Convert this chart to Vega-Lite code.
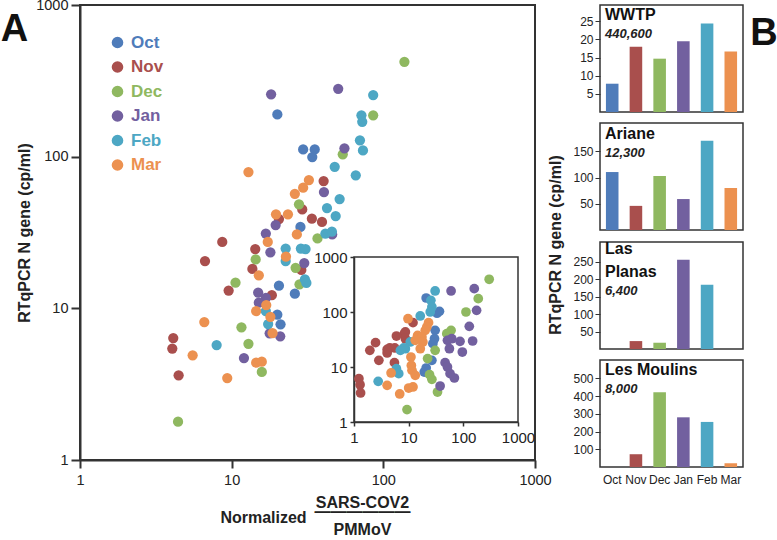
{
  "$schema": "https://vega.github.io/schema/vega-lite/v6.json",
  "padding": {"left": 0, "top": -4, "right": 0, "bottom": 0},
  "background": "white",
  "config": {
    "font": "Liberation Sans",
    "view": {"stroke": "#333", "strokeWidth": 1.5},
    "axis": {"grid": false, "labelFlush": false, "labelOverlap": false, "domainColor": "#333", "tickColor": "#333", "labelColor": "#222", "titleColor": "#222", "labelFont": "Liberation Sans"},
    "title": {"color": "#222"}
  },
  "datasets": {
    "main": [
      {"m": "Oct", "x": 20.0, "y": 190}, {"m": "Oct", "x": 29.6, "y": 111.7}, {"m": "Oct", "x": 35.3, "y": 111.7}, {"m": "Oct", "x": 34.0, "y": 99.4}, {"m": "Oct", "x": 28.4, "y": 34.4}, {"m": "Oct", "x": 20.5, "y": 14.1}, {"m": "Oct", "x": 26.1, "y": 12.5}, {"m": "Oct", "x": 20.0, "y": 9.08}, {"m": "Oct", "x": 21.0, "y": 7.84},
      {"m": "Nov", "x": 40.4, "y": 69.0}, {"m": "Nov", "x": 29.2, "y": 44.9}, {"m": "Nov", "x": 20.5, "y": 38.8}, {"m": "Nov", "x": 33.8, "y": 39.0}, {"m": "Nov", "x": 39.4, "y": 37.1}, {"m": "Nov", "x": 8.67, "y": 27.4}, {"m": "Nov", "x": 14.3, "y": 24.6}, {"m": "Nov", "x": 6.67, "y": 20.5}, {"m": "Nov", "x": 13.7, "y": 18.2}, {"m": "Nov", "x": 28.8, "y": 17.9}, {"m": "Nov", "x": 9.55, "y": 13.1}, {"m": "Nov", "x": 18.4, "y": 12.2}, {"m": "Nov", "x": 4.12, "y": 6.37}, {"m": "Nov", "x": 4.06, "y": 5.43}, {"m": "Nov", "x": 4.47, "y": 3.62},
      {"m": "Dec", "x": 137.7, "y": 422}, {"m": "Dec", "x": 85.7, "y": 187.5}, {"m": "Dec", "x": 54.0, "y": 103.7}, {"m": "Dec", "x": 27.8, "y": 48.5}, {"m": "Dec", "x": 36.8, "y": 28.9}, {"m": "Dec", "x": 14.4, "y": 21.0}, {"m": "Dec", "x": 26.4, "y": 18.5}, {"m": "Dec", "x": 10.6, "y": 14.75}, {"m": "Dec", "x": 28.0, "y": 14.4}, {"m": "Dec", "x": 11.6, "y": 7.5}, {"m": "Dec", "x": 12.9, "y": 5.84}, {"m": "Dec", "x": 15.8, "y": 3.81}, {"m": "Dec", "x": 4.43, "y": 1.79},
      {"m": "Jan", "x": 18.2, "y": 257.5}, {"m": "Jan", "x": 50.4, "y": 280}, {"m": "Jan", "x": 55.4, "y": 113.6}, {"m": "Jan", "x": 40.6, "y": 58.4}, {"m": "Jan", "x": 19.5, "y": 35.4}, {"m": "Jan", "x": 16.8, "y": 31.1}, {"m": "Jan", "x": 46.0, "y": 30.7}, {"m": "Jan", "x": 18.0, "y": 23.4}, {"m": "Jan", "x": 30.1, "y": 19.9}, {"m": "Jan", "x": 14.95, "y": 12.7}, {"m": "Jan", "x": 16.8, "y": 11.7}, {"m": "Jan", "x": 15.1, "y": 10.9}, {"m": "Jan", "x": 20.9, "y": 6.54}, {"m": "Jan", "x": 17.8, "y": 6.84}, {"m": "Jan", "x": 12.05, "y": 4.7},
      {"m": "Feb", "x": 85.7, "y": 254.7}, {"m": "Feb", "x": 71.7, "y": 187.5}, {"m": "Feb", "x": 72.6, "y": 169.6}, {"m": "Feb", "x": 70.1, "y": 128.1}, {"m": "Feb", "x": 73.4, "y": 110}, {"m": "Feb", "x": 47.8, "y": 85.8}, {"m": "Feb", "x": 65.8, "y": 75.4}, {"m": "Feb", "x": 51.5, "y": 52.5}, {"m": "Feb", "x": 42.5, "y": 45.8}, {"m": "Feb", "x": 48.5, "y": 40.6}, {"m": "Feb", "x": 41.5, "y": 31.1}, {"m": "Feb", "x": 45.8, "y": 32.1}, {"m": "Feb", "x": 22.7, "y": 24.8}, {"m": "Feb", "x": 28.6, "y": 24.8}, {"m": "Feb", "x": 30.7, "y": 24.6}, {"m": "Feb", "x": 22.7, "y": 20.5}, {"m": "Feb", "x": 30.4, "y": 15.5}, {"m": "Feb", "x": 31.1, "y": 14.7}, {"m": "Feb", "x": 16.8, "y": 9.6}, {"m": "Feb", "x": 17.4, "y": 7.88}, {"m": "Feb", "x": 7.96, "y": 5.73},
      {"m": "Mar", "x": 12.9, "y": 79.1}, {"m": "Mar", "x": 32.3, "y": 70.1}, {"m": "Mar", "x": 29.6, "y": 62.4}, {"m": "Mar", "x": 26.1, "y": 56.9}, {"m": "Mar", "x": 19.6, "y": 41.7}, {"m": "Mar", "x": 23.5, "y": 41.7}, {"m": "Mar", "x": 26.9, "y": 30.7}, {"m": "Mar", "x": 17.3, "y": 27.4}, {"m": "Mar", "x": 22.8, "y": 21.9}, {"m": "Mar", "x": 15.1, "y": 16.5}, {"m": "Mar", "x": 16.9, "y": 10.5}, {"m": "Mar", "x": 14.5, "y": 9.6}, {"m": "Mar", "x": 18.0, "y": 8.79}, {"m": "Mar", "x": 6.6, "y": 8.12}, {"m": "Mar", "x": 18.6, "y": 6.87}, {"m": "Mar", "x": 5.53, "y": 4.9}, {"m": "Mar", "x": 14.5, "y": 4.38}, {"m": "Mar", "x": 15.8, "y": 4.45}, {"m": "Mar", "x": 9.35, "y": 3.47}
    ],
    "inset": [
      {"m": "Oct", "x": 20.9, "y": 179.7}, {"m": "Oct", "x": 36.6, "y": 102.8}, {"m": "Oct", "x": 33, "y": 95}, {"m": "Oct", "x": 30.5, "y": 46.4}, {"m": "Oct", "x": 29.7, "y": 32.7}, {"m": "Oct", "x": 27.7, "y": 26.6}, {"m": "Oct", "x": 26.6, "y": 13.2}, {"m": "Oct", "x": 20.9, "y": 9.59}, {"m": "Oct", "x": 19.3, "y": 8.11},
      {"m": "Nov", "x": 12, "y": 64}, {"m": "Nov", "x": 8.34, "y": 40.4}, {"m": "Nov", "x": 8.7, "y": 43.3}, {"m": "Nov", "x": 8.7, "y": 32.7}, {"m": "Nov", "x": 5.97, "y": 36.6}, {"m": "Nov", "x": 4.51, "y": 22.2}, {"m": "Nov", "x": 5.56, "y": 22.2}, {"m": "Nov", "x": 4.04, "y": 20.9}, {"m": "Nov", "x": 4.04, "y": 18}, {"m": "Nov", "x": 2.48, "y": 27.7}, {"m": "Nov", "x": 1.95, "y": 20.1}, {"m": "Nov", "x": 2.85, "y": 13.2}, {"m": "Nov", "x": 5.49, "y": 12}, {"m": "Nov", "x": 1.23, "y": 6.14}, {"m": "Nov", "x": 1.29, "y": 4.77}, {"m": "Nov", "x": 1.32, "y": 3.37},
      {"m": "Dec", "x": 297, "y": 393}, {"m": "Dec", "x": 187.5, "y": 175}, {"m": "Dec", "x": 111.8, "y": 100}, {"m": "Dec", "x": 59.7, "y": 46.4}, {"m": "Dec", "x": 49.8, "y": 40.4}, {"m": "Dec", "x": 30.5, "y": 20.1}, {"m": "Dec", "x": 22.2, "y": 14.2}, {"m": "Dec", "x": 24.1, "y": 7.26}, {"m": "Dec", "x": 26.6, "y": 5.97}, {"m": "Dec", "x": 33.7, "y": 3.51}, {"m": "Dec", "x": 9.33, "y": 1.68},
      {"m": "Jan", "x": 59.7, "y": 241}, {"m": "Jan", "x": 158.5, "y": 266}, {"m": "Jan", "x": 174.8, "y": 107.2}, {"m": "Jan", "x": 128.5, "y": 54.9}, {"m": "Jan", "x": 147.8, "y": 29.7}, {"m": "Jan", "x": 87, "y": 29.3}, {"m": "Jan", "x": 95.9, "y": 18.7}, {"m": "Jan", "x": 61.4, "y": 32.7}, {"m": "Jan", "x": 51.2, "y": 30.5}, {"m": "Jan", "x": 55.6, "y": 21.5}, {"m": "Jan", "x": 46.4, "y": 12.0}, {"m": "Jan", "x": 51.2, "y": 10}, {"m": "Jan", "x": 57.2, "y": 7.57}, {"m": "Jan", "x": 68.6, "y": 6.31}, {"m": "Jan", "x": 37.6, "y": 4.51},
      {"m": "Feb", "x": 30.5, "y": 241}, {"m": "Feb", "x": 25.5, "y": 163}, {"m": "Feb", "x": 26.6, "y": 123}, {"m": "Feb", "x": 24.8, "y": 100}, {"m": "Feb", "x": 16.3, "y": 84.6}, {"m": "Feb", "x": 10.7, "y": 28.5}, {"m": "Feb", "x": 8.7, "y": 21.5}, {"m": "Feb", "x": 8.11, "y": 22.2}, {"m": "Feb", "x": 7.05, "y": 20.1}, {"m": "Feb", "x": 5.97, "y": 9.33}, {"m": "Feb", "x": 6.58, "y": 7.57}, {"m": "Feb", "x": 2.77, "y": 5.49},
      {"m": "Mar", "x": 9.72, "y": 75.6}, {"m": "Mar", "x": 23.1, "y": 64}, {"m": "Mar", "x": 21.5, "y": 53.4}, {"m": "Mar", "x": 20.1, "y": 46.4}, {"m": "Mar", "x": 14.6, "y": 37.6}, {"m": "Mar", "x": 17.5, "y": 35.2}, {"m": "Mar", "x": 13.2, "y": 30.5}, {"m": "Mar", "x": 18.2, "y": 28.5}, {"m": "Mar", "x": 16.3, "y": 21.5}, {"m": "Mar", "x": 11.0, "y": 15.2}, {"m": "Mar", "x": 11.2, "y": 10.7}, {"m": "Mar", "x": 11.5, "y": 8.7}, {"m": "Mar", "x": 13.2, "y": 7.05}, {"m": "Mar", "x": 4.77, "y": 7.78}, {"m": "Mar", "x": 4.04, "y": 4.64}, {"m": "Mar", "x": 6.86, "y": 3.23}, {"m": "Mar", "x": 10, "y": 4.15}, {"m": "Mar", "x": 12, "y": 4.33}
    ],
    "bars": [
      {"site": "WWTP", "m": "Oct", "v": 7.8}, {"site": "WWTP", "m": "Nov", "v": 18.0}, {"site": "WWTP", "m": "Dec", "v": 14.7}, {"site": "WWTP", "m": "Jan", "v": 19.5}, {"site": "WWTP", "m": "Feb", "v": 24.4}, {"site": "WWTP", "m": "Mar", "v": 16.7},
      {"site": "Ariane", "m": "Oct", "v": 110.5}, {"site": "Ariane", "m": "Nov", "v": 46}, {"site": "Ariane", "m": "Dec", "v": 103}, {"site": "Ariane", "m": "Jan", "v": 59}, {"site": "Ariane", "m": "Feb", "v": 170}, {"site": "Ariane", "m": "Mar", "v": 80},
      {"site": "Las Planas", "m": "Nov", "v": 22.7}, {"site": "Las Planas", "m": "Dec", "v": 18}, {"site": "Las Planas", "m": "Jan", "v": 256}, {"site": "Las Planas", "m": "Feb", "v": 184},
      {"site": "Les Moulins", "m": "Nov", "v": 72}, {"site": "Les Moulins", "m": "Dec", "v": 421}, {"site": "Les Moulins", "m": "Jan", "v": 280}, {"site": "Les Moulins", "m": "Feb", "v": 254}, {"site": "Les Moulins", "m": "Mar", "v": 21}
    ]
  },
  "resolve": {"scale": {"color": "independent"}, "legend": {"color": "independent"}},
  "spacing": -5,
  "hconcat": [
    {
      "title": {"text": "A", "fontSize": 38, "fontWeight": "bold", "anchor": "start", "offset": -53, "dx": -15, "color": "#111"},
      "resolve": {"scale": {"color": "independent"}, "legend": {"color": "independent"}},
      "columns": 2,
      "align": "none",
      "spacing": -241,
      "concat": [
        {
          "width": 455,
          "height": 455,
          "data": {"name": "main"},
          "view": {"stroke": "#333", "strokeWidth": 2},
          "title": {"text": ["SARS-COV2", "——————"], "orient": "bottom", "anchor": "middle", "frame": "group", "dx": 55, "offset": -30, "fontSize": 16, "fontWeight": "bold", "lineHeight": 9, "subtitle": "PMMoV", "subtitleFontSize": 16, "subtitleFontWeight": "bold", "subtitleColor": "#222", "subtitlePadding": 2},
          "mark": {"type": "circle", "size": 105, "opacity": 1},
          "encoding": {
            "x": {"field": "x", "type": "quantitative", "scale": {"type": "log", "domain": [1, 1000]},
              "axis": {"values": [1, 10, 100, 1000], "format": "d", "title": "Normalized", "titleX": 183, "titleY": 57, "titleAlign": "center", "titleBaseline": "middle", "titleFontSize": 16, "titleFontWeight": "bold", "labelFontSize": 14.5, "tickSize": 8, "tickWidth": 2, "domainWidth": 2, "labelPadding": 5}},
            "y": {"field": "y", "type": "quantitative", "scale": {"type": "log", "domain": [1, 1000]},
              "axis": {"values": [1, 10, 100, 1000], "format": "d", "title": "RTqPCR N gene (cp/ml)", "titleFontSize": 16, "titleFontWeight": "bold", "titlePadding": 3, "labelFontSize": 14.5, "tickSize": 9, "tickWidth": 2, "domainWidth": 2, "labelPadding": 3}},
            "color": {"field": "m", "type": "nominal",
              "scale": {"domain": ["Oct", "Nov", "Dec", "Jan", "Feb", "Mar"], "range": ["#4F7CBA", "#A94F4D", "#8FB860", "#72609F", "#4DA7C4", "#EC9150"]},
              "legend": {"orient": "none", "legendX": 29, "legendY": 29, "title": null, "symbolType": "circle", "symbolSize": 135, "symbolStrokeWidth": 0, "symbolOpacity": 1, "labelFontSize": 17, "labelFontWeight": "bold", "labelFont": "Liberation Sans", "rowPadding": 6.5, "labelOffset": 5,
                "encode": {"labels": {"update": {"fill": {"signal": "datum.value === 'Oct' ? '#4F7CBA' : datum.value === 'Nov' ? '#A94F4D' : datum.value === 'Dec' ? '#8FB860' : datum.value === 'Jan' ? '#72609F' : datum.value === 'Feb' ? '#4DA7C4' : '#EC9150'"}}}}}}
          }
        },
        {
          "spacing": 0,
          "resolve": {"scale": {"color": "independent"}, "legend": {"color": "independent"}},
          "vconcat": [
            {"width": 10, "height": 244, "data": {"values": [{}]}, "view": {"stroke": null}, "mark": {"type": "point", "opacity": 0}},
            {
              "width": 164,
              "height": 165,
              "data": {"name": "inset"},
              "view": {"stroke": "#333", "strokeWidth": 1.5, "fill": "white"},
              "mark": {"type": "circle", "size": 95, "opacity": 1},
              "encoding": {
                "x": {"field": "x", "type": "quantitative", "scale": {"type": "log", "domain": [1, 1000]},
                  "axis": {"values": [1, 10, 100, 1000], "format": "d", "title": null, "labelFontSize": 15, "tickSize": 4, "tickWidth": 1.5, "domainWidth": 1.5, "labelPadding": 4}},
                "y": {"field": "y", "type": "quantitative", "scale": {"type": "log", "domain": [1, 1000]},
                  "axis": {"values": [1, 10, 100, 1000], "format": "d", "title": null, "labelFontSize": 15, "tickSize": 4, "tickWidth": 1.5, "domainWidth": 1.5, "labelPadding": 3}},
                "color": {"field": "m", "type": "nominal", "legend": null,
                  "scale": {"domain": ["Oct", "Nov", "Dec", "Jan", "Feb", "Mar"], "range": ["#4F7CBA", "#A94F4D", "#8FB860", "#72609F", "#4DA7C4", "#EC9150"]}}
              }
            }
          ]
        }
      ]
    },
    {
      "title": {"text": "B", "fontSize": 38, "fontWeight": "bold", "anchor": "end", "offset": -49, "dx": 34, "color": "#111"},
      "resolve": {"scale": {"color": "independent"}, "legend": {"color": "independent"}},
      "vconcat": [
        {
          "title": {"text": "RTqPCR N gene (cp/ml)", "orient": "left", "anchor": "middle", "fontSize": 16, "fontWeight": "bold", "offset": 8},
          "resolve": {"scale": {"color": "independent"}, "legend": {"color": "independent"}},
          "spacing": 9,
          "vconcat": [
            {
              "width": 143, "height": 107,
              "data": {"name": "bars"},
              "transform": [{"filter": "datum.site === 'WWTP'"}],
              "title": {"text": "WWTP", "subtitle": "440,600", "anchor": "start", "frame": "group", "offset": -36, "dx": 5, "fontSize": 16, "fontWeight": "bold", "color": "#111", "subtitleFontSize": 13, "subtitleFontStyle": "italic", "subtitleFontWeight": "bold", "subtitleColor": "#222", "subtitlePadding": 5},
              "mark": {"type": "bar"},
              "encoding": {
                "x": {"field": "m", "type": "nominal", "sort": ["Oct", "Nov", "Dec", "Jan", "Feb", "Mar"], "scale": {"domain": ["Oct", "Nov", "Dec", "Jan", "Feb", "Mar"], "paddingInner": 0.47, "paddingOuter": 0.25}, "axis": null},
                "y": {"field": "v", "type": "quantitative", "scale": {"domain": [0, 29.5], "nice": false}, "axis": {"values": [5, 10, 15, 20, 25], "title": null, "domain": false, "labelFontSize": 12, "tickSize": 5, "labelPadding": 2}},
                "color": {"field": "m", "type": "nominal", "legend": null, "scale": {"domain": ["Oct", "Nov", "Dec", "Jan", "Feb", "Mar"], "range": ["#4F7CBA", "#A94F4D", "#8FB860", "#72609F", "#4DA7C4", "#EC9150"]}}
              }
            },
            {
              "width": 143, "height": 107,
              "data": {"name": "bars"},
              "transform": [{"filter": "datum.site === 'Ariane'"}],
              "title": {"text": "Ariane", "subtitle": "12,300", "anchor": "start", "frame": "group", "offset": -37, "dx": 5, "fontSize": 16, "fontWeight": "bold", "color": "#111", "subtitleFontSize": 13, "subtitleFontStyle": "italic", "subtitleFontWeight": "bold", "subtitleColor": "#222", "subtitlePadding": 5},
              "mark": {"type": "bar"},
              "encoding": {
                "x": {"field": "m", "type": "nominal", "sort": ["Oct", "Nov", "Dec", "Jan", "Feb", "Mar"], "scale": {"domain": ["Oct", "Nov", "Dec", "Jan", "Feb", "Mar"], "paddingInner": 0.47, "paddingOuter": 0.25}, "axis": null},
                "y": {"field": "v", "type": "quantitative", "scale": {"domain": [0, 204], "nice": false}, "axis": {"values": [50, 100, 150], "title": null, "domain": false, "labelFontSize": 12, "tickSize": 5, "labelPadding": 2}},
                "color": {"field": "m", "type": "nominal", "legend": null, "scale": {"domain": ["Oct", "Nov", "Dec", "Jan", "Feb", "Mar"], "range": ["#4F7CBA", "#A94F4D", "#8FB860", "#72609F", "#4DA7C4", "#EC9150"]}}
              }
            },
            {
              "width": 143, "height": 107,
              "data": {"name": "bars"},
              "transform": [{"filter": "datum.site === 'Las Planas'"}],
              "title": {"text": ["Las", "Planas"], "subtitle": "6,400", "anchor": "start", "frame": "group", "offset": -56, "dx": 5, "fontSize": 16, "fontWeight": "bold", "lineHeight": 23, "color": "#111", "subtitleFontSize": 13, "subtitleFontStyle": "italic", "subtitleFontWeight": "bold", "subtitleColor": "#222", "subtitlePadding": 5},
              "mark": {"type": "bar"},
              "encoding": {
                "x": {"field": "m", "type": "nominal", "sort": ["Oct", "Nov", "Dec", "Jan", "Feb", "Mar"], "scale": {"domain": ["Oct", "Nov", "Dec", "Jan", "Feb", "Mar"], "paddingInner": 0.47, "paddingOuter": 0.25}, "axis": null},
                "y": {"field": "v", "type": "quantitative", "scale": {"domain": [0, 307], "nice": false}, "axis": {"values": [50, 100, 150, 200, 250], "title": null, "domain": false, "labelFontSize": 12, "tickSize": 5, "labelPadding": 2}},
                "color": {"field": "m", "type": "nominal", "legend": null, "scale": {"domain": ["Oct", "Nov", "Dec", "Jan", "Feb", "Mar"], "range": ["#4F7CBA", "#A94F4D", "#8FB860", "#72609F", "#4DA7C4", "#EC9150"]}}
              }
            },
            {
              "width": 143, "height": 107,
              "data": {"name": "bars"},
              "transform": [{"filter": "datum.site === 'Les Moulins'"}],
              "title": {"text": "Les Moulins", "subtitle": "8,000", "anchor": "start", "frame": "group", "offset": -36, "dx": 5, "fontSize": 16, "fontWeight": "bold", "color": "#111", "subtitleFontSize": 13, "subtitleFontStyle": "italic", "subtitleFontWeight": "bold", "subtitleColor": "#222", "subtitlePadding": 5},
              "mark": {"type": "bar"},
              "encoding": {
                "x": {"field": "m", "type": "nominal", "sort": ["Oct", "Nov", "Dec", "Jan", "Feb", "Mar"], "scale": {"domain": ["Oct", "Nov", "Dec", "Jan", "Feb", "Mar"], "paddingInner": 0.47, "paddingOuter": 0.25}, "axis": {"title": null, "labelAngle": 0, "ticks": false, "domain": false, "labelFontSize": 12, "labelPadding": 7}},
                "y": {"field": "v", "type": "quantitative", "scale": {"domain": [0, 603], "nice": false}, "axis": {"values": [100, 200, 300, 400, 500], "title": null, "domain": false, "labelFontSize": 12, "tickSize": 5, "labelPadding": 2}},
                "color": {"field": "m", "type": "nominal", "legend": null, "scale": {"domain": ["Oct", "Nov", "Dec", "Jan", "Feb", "Mar"], "range": ["#4F7CBA", "#A94F4D", "#8FB860", "#72609F", "#4DA7C4", "#EC9150"]}}
              }
            }
          ]
        }
      ]
    }
  ]
}
